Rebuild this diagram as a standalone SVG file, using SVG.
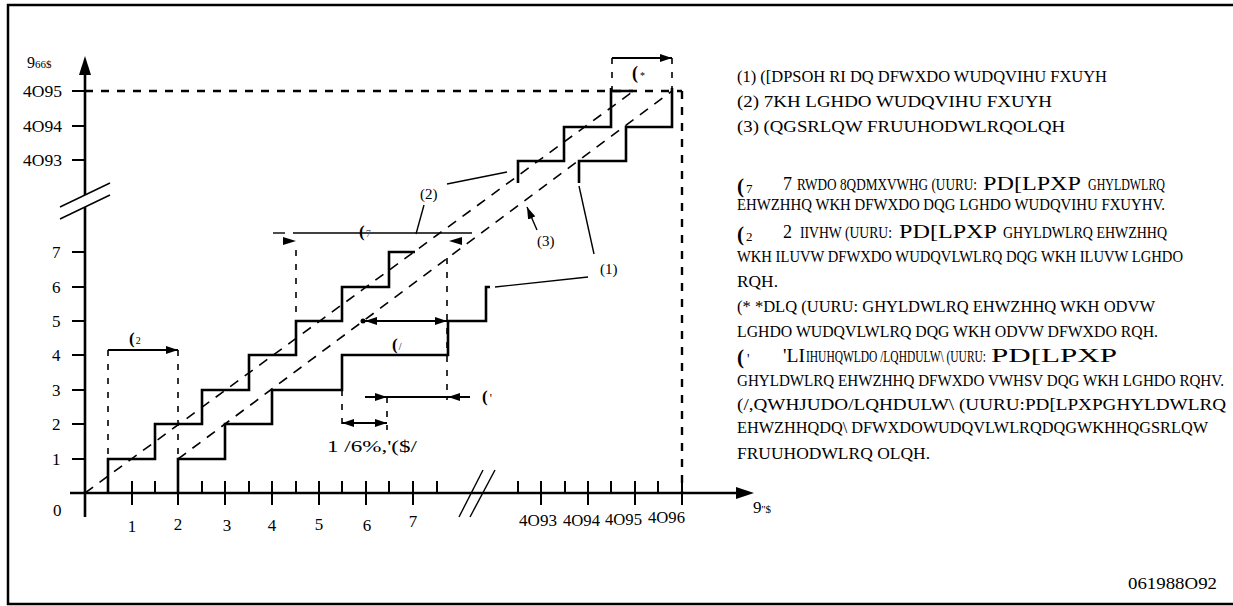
<svg xmlns="http://www.w3.org/2000/svg" width="1233" height="606" viewBox="0 0 1233 606">
<style>
.t{font-family:"Liberation Serif",serif;fill:#000}
.lg{font-size:16px}
.num{font-size:17px}
.big{font-size:18px}
.cr{font-weight:bold}
.stair{fill:none;stroke:#000;stroke-width:2.6}
.axis{stroke:#000;stroke-width:2.6;fill:none}
.tick{stroke:#000;stroke-width:2}
.dia{stroke:#000;stroke-width:1.6;stroke-dasharray:10 8;fill:none}
.vd{stroke:#000;stroke-width:1.6;stroke-dasharray:6 8;fill:none}
.vdb{stroke:#000;stroke-width:2.4;stroke-dasharray:8 8;fill:none}
.dim{stroke:#000;stroke-width:2;fill:none}
.lead{stroke:#000;stroke-width:1.4;fill:none}
</style>
<defs>
<marker id="ah" viewBox="0 0 12 8" refX="12" refY="4" markerWidth="12" markerHeight="8" markerUnits="userSpaceOnUse" orient="auto">
<path d="M0,0 L12,4 L0,8 Z" fill="#000"/>
</marker>
</defs>
<rect x="8" y="5" width="1240" height="599" fill="#fff" stroke="#000" stroke-width="2.5"/>

<g id="axes">
<line class="axis" x1="85" y1="517" x2="85" y2="207"/>
<line class="axis" x1="85" y1="195" x2="85" y2="72"/>
<path d="M79,75 L85,56 L91,75 Z" fill="#000"/>
<line class="lead" x1="60" y1="207" x2="110" y2="183"/>
<line class="lead" x1="60" y1="219" x2="110" y2="195"/>
<line class="axis" x1="70" y1="493" x2="738" y2="493"/>
<path d="M736,487 L754,493 L736,499 Z" fill="#000"/>
<line class="lead" x1="459" y1="517" x2="483" y2="470"/>
<line class="lead" x1="470" y1="517" x2="495" y2="470"/>
<g class="tick">
<line x1="72" y1="91" x2="85" y2="91"/><line x1="72" y1="126" x2="85" y2="126"/><line x1="72" y1="160" x2="85" y2="160"/>
<line x1="72" y1="252" x2="85" y2="252"/><line x1="72" y1="287" x2="85" y2="287"/><line x1="72" y1="321" x2="85" y2="321"/>
<line x1="72" y1="355" x2="85" y2="355"/><line x1="72" y1="390" x2="85" y2="390"/><line x1="72" y1="424" x2="85" y2="424"/>
<line x1="72" y1="459" x2="85" y2="459"/>
<line x1="132" y1="481" x2="132" y2="505"/><line x1="178" y1="481" x2="178" y2="505"/><line x1="225" y1="481" x2="225" y2="505"/>
<line x1="272" y1="481" x2="272" y2="505"/><line x1="319" y1="481" x2="319" y2="505"/><line x1="366" y1="481" x2="366" y2="505"/>
<line x1="413" y1="481" x2="413" y2="505"/>
<line x1="541" y1="481" x2="541" y2="505"/><line x1="588" y1="481" x2="588" y2="505"/><line x1="635" y1="481" x2="635" y2="505"/>
<line x1="682" y1="481" x2="682" y2="505"/>
<line x1="155" y1="481" x2="155" y2="493"/><line x1="202" y1="481" x2="202" y2="493"/><line x1="249" y1="481" x2="249" y2="493"/>
<line x1="296" y1="481" x2="296" y2="493"/><line x1="342" y1="481" x2="342" y2="493"/><line x1="389" y1="481" x2="389" y2="493"/>
<line x1="437" y1="481" x2="437" y2="493"/><line x1="518" y1="481" x2="518" y2="493"/><line x1="565" y1="481" x2="565" y2="493"/>
<line x1="611" y1="481" x2="611" y2="493"/><line x1="658" y1="481" x2="658" y2="493"/>
</g>
<text class="t num" x="23" y="97" textLength="39" lengthAdjust="spacingAndGlyphs">4O95</text>
<text class="t num" x="23" y="132" textLength="39" lengthAdjust="spacingAndGlyphs">4O94</text>
<text class="t num" x="23" y="166" textLength="39" lengthAdjust="spacingAndGlyphs">4O93</text>
<text class="t num" x="52" y="258">7</text>
<text class="t num" x="52" y="293">6</text>
<text class="t num" x="52" y="327">5</text>
<text class="t num" x="52" y="361">4</text>
<text class="t num" x="52" y="396">3</text>
<text class="t num" x="52" y="430">2</text>
<text class="t num" x="52" y="465">1</text>
<text class="t num" x="53" y="516">0</text>
<g class="t num" text-anchor="middle">
<text x="132" y="532">1</text><text x="178" y="530">2</text><text x="227" y="531">3</text><text x="272" y="531">4</text>
<text x="319" y="530">5</text><text x="367" y="531">6</text><text x="413" y="527">7</text>
</g>
<text class="t num" x="519" y="526" textLength="38" lengthAdjust="spacingAndGlyphs">4O93</text>
<text class="t num" x="563" y="526" textLength="37" lengthAdjust="spacingAndGlyphs">4O94</text>
<text class="t num" x="605" y="525" textLength="37" lengthAdjust="spacingAndGlyphs">4O95</text>
<text class="t num" x="648" y="523" textLength="37" lengthAdjust="spacingAndGlyphs">4O96</text>
<text class="t" x="27" y="68" font-size="16">9<tspan font-size="11">66$</tspan></text>
<text class="t" x="753" y="513" font-size="17">9<tspan font-size="11">''$</tspan></text>
</g>

<g id="connectors">
<line class="vdb" x1="85" y1="91" x2="682" y2="91"/>
<line class="vdb" x1="682" y1="91" x2="682" y2="493"/>
<line class="dia" x1="85" y1="493" x2="635" y2="90"/>
<line class="dia" x1="178" y1="459" x2="672" y2="91"/>
</g>

<g id="curve-ideal">
<path class="stair" d="M108,493 V459 H155 V424 H202 V390 H249 V355 H296 V321 H342 V287 H389 V252 H415"/>
<path class="stair" d="M518,183 V161 H564 V127 H611 V88 M611,91 H633"/>
</g>
<g id="curve-actual">
<path class="stair" d="M178,493 V459 H225 V424 H272 V390 H342 V355 H448 V321 H486 V287 H490"/>
<path class="stair" d="M579,183 V161 H626 V127 H672 V88"/>
</g>

<g id="label-1">
<line class="lead" x1="495" y1="287" x2="588" y2="277"/>
<line class="lead" x1="594" y1="254" x2="579" y2="186"/>
<text class="t" x="600" y="274" font-size="15">(1)</text>
</g>
<g id="label-2">
<line class="lead" x1="447" y1="184" x2="507" y2="172"/>
<line class="lead" x1="424" y1="205" x2="416" y2="234"/>
<text class="t" x="420" y="199" font-size="15">(2)</text>
</g>
<g id="label-3">
<line class="lead" x1="537" y1="230" x2="527" y2="207" marker-end="url(#ah)"/>
<text class="t" x="537" y="246" font-size="15">(3)</text>
</g>

<g id="dim-EG">
<line class="vd" x1="612" y1="58" x2="612" y2="91"/>
<line class="vd" x1="672" y1="58" x2="672" y2="91"/>
<line class="dim" x1="612" y1="58" x2="672" y2="58" marker-end="url(#ah)"/>
<text class="t" x="632" y="79" font-size="18"><tspan class="cr">(</tspan><tspan font-size="10" dx="2">*</tspan></text>
</g>
<g id="dim-EO">
<line class="vd" x1="108" y1="350" x2="108" y2="493"/>
<line class="vd" x1="178" y1="350" x2="178" y2="493"/>
<line class="dim" x1="108" y1="350" x2="178" y2="350" marker-end="url(#ah)"/>
<text class="t" x="129" y="344" font-size="17"><tspan class="cr">(</tspan><tspan font-size="10" dx="1">2</tspan></text>
</g>
<g id="dim-ET">
<line class="lead" x1="273" y1="233" x2="285" y2="233"/>
<line class="lead" x1="293" y1="233" x2="472" y2="233"/>
<path d="M283,237 L296,241 L283,245 Z" fill="#000"/>
<path d="M462,237 L449,241 L462,245 Z" fill="#000"/>
<line class="vd" x1="296" y1="250" x2="296" y2="321"/>
<line class="vd" x1="447" y1="258" x2="447" y2="400"/>
<text class="t" x="359" y="237" font-size="17"><tspan class="cr">(</tspan><tspan font-size="10" dx="1" fill="#555">7</tspan></text>
</g>
<g id="dim-EL">
<circle cx="363" cy="321" r="2.5" fill="#000"/>
<line class="dim" x1="400" y1="321" x2="365" y2="321" marker-end="url(#ah)"/>
<line class="dim" x1="400" y1="321" x2="447" y2="321" marker-end="url(#ah)"/>
<text class="t" x="392" y="350" font-size="17"><tspan class="cr">(</tspan><tspan font-size="10" dx="1">/</tspan></text>
</g>
<g id="dim-ED">
<line class="dim" x1="365" y1="397" x2="387" y2="397" marker-end="url(#ah)"/>
<line class="dim" x1="387" y1="397" x2="448" y2="397"/>
<line class="dim" x1="470" y1="397" x2="448" y2="397" marker-end="url(#ah)"/>
<line class="vd" x1="387" y1="397" x2="387" y2="430"/>
<text class="t" x="482" y="402" font-size="17"><tspan class="cr">(</tspan><tspan font-size="12" dx="2">'</tspan></text>
</g>
<g id="dim-LSB">
<line class="vd" x1="342" y1="390" x2="342" y2="430"/>
<line class="dim" x1="364" y1="423" x2="342" y2="423" marker-end="url(#ah)"/>
<line class="dim" x1="364" y1="423" x2="387" y2="423" marker-end="url(#ah)"/>
<text class="t" x="327" y="452" font-size="17" textLength="90" lengthAdjust="spacingAndGlyphs">1 /6%,'($/</text>
</g>

<g id="legend" class="t lg">
<text x="737" y="82" textLength="370" lengthAdjust="spacingAndGlyphs">(1) ([DPSOH RI DQ DFWXDO WUDQVIHU FXUYH</text>
<text x="737" y="107" textLength="315" lengthAdjust="spacingAndGlyphs">(2) 7KH LGHDO WUDQVIHU FXUYH</text>
<text x="737" y="132" textLength="328" lengthAdjust="spacingAndGlyphs">(3) (QGSRLQW FRUUHODWLRQOLQH</text>

<text x="737" y="193" font-size="21"><tspan class="cr">(</tspan><tspan font-size="13" dx="2">7</tspan></text>
<text x="783" y="190" class="big">7</text>
<text x="797" y="190" textLength="180" lengthAdjust="spacingAndGlyphs">RWDO 8QDMXVWHG (UURU:</text>
<text x="983" y="190" class="big" textLength="98" lengthAdjust="spacingAndGlyphs">PD[LPXP</text>
<text x="1088" y="190" textLength="77" lengthAdjust="spacingAndGlyphs">GHYLDWLRQ</text>
<text x="737" y="210" textLength="428" lengthAdjust="spacingAndGlyphs">EHWZHHQ WKH DFWXDO DQG LGHDO WUDQVIHU FXUYHV.</text>

<text x="737" y="241" font-size="21"><tspan class="cr">(</tspan><tspan font-size="13" dx="2">2</tspan></text>
<text x="783" y="238" class="big">2</text>
<text x="800" y="238" textLength="92" lengthAdjust="spacingAndGlyphs">IIVHW (UURU:</text>
<text x="899" y="238" class="big" textLength="98" lengthAdjust="spacingAndGlyphs">PD[LPXP</text>
<text x="1003" y="238" textLength="164" lengthAdjust="spacingAndGlyphs">GHYLDWLRQ EHWZHHQ</text>
<text x="737" y="262" textLength="446" lengthAdjust="spacingAndGlyphs">WKH ILUVW DFWXDO WUDQVLWLRQ DQG WKH ILUVW LGHDO</text>
<text x="737" y="287" textLength="41" lengthAdjust="spacingAndGlyphs">RQH.</text>
<text x="737" y="312" textLength="418" lengthAdjust="spacingAndGlyphs">(* *DLQ (UURU: GHYLDWLRQ EHWZHHQ WKH ODVW</text>
<text x="737" y="337" textLength="421" lengthAdjust="spacingAndGlyphs">LGHDO WUDQVLWLRQ DQG WKH ODVW DFWXDO RQH.</text>

<text x="737" y="364" font-size="21"><tspan class="cr">(</tspan><tspan font-size="14" dx="3">'</tspan></text>
<text x="783" y="362" class="big" textLength="22" lengthAdjust="spacingAndGlyphs">'LI</text>
<text x="806" y="362" textLength="180" lengthAdjust="spacingAndGlyphs">IHUHQWLDO /LQHDULW\ (UURU:</text>
<text x="991" y="362" class="big" textLength="126" lengthAdjust="spacingAndGlyphs">PD[LPXP</text>
<text x="737" y="386" textLength="487" lengthAdjust="spacingAndGlyphs">GHYLDWLRQ EHWZHHQ DFWXDO VWHSV DQG WKH LGHDO RQHV.</text>
<text x="737" y="410" font-size="17" textLength="489" lengthAdjust="spacingAndGlyphs">(/,QWHJUDO/LQHDULW\ (UURU:PD[LPXPGHYLDWLRQ</text>
<text x="737" y="433" textLength="471" lengthAdjust="spacingAndGlyphs">EHWZHHQDQ\ DFWXDOWUDQVLWLRQDQGWKHHQGSRLQW</text>
<text x="737" y="459" textLength="193" lengthAdjust="spacingAndGlyphs">FRUUHODWLRQ OLQH.</text>
</g>

<g id="figure-id">
<text class="t" x="1128" y="589" font-size="16" textLength="89" lengthAdjust="spacingAndGlyphs">061988O92</text>
</g>
</svg>
